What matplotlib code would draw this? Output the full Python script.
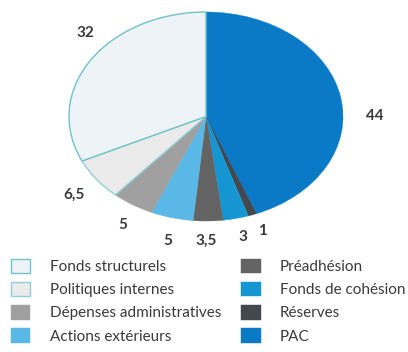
import matplotlib.pyplot as plt

# slices clockwise from 12 o'clock
postes = ["PAC", "Réserves", "Fonds de cohésion", "Préadhésion",
          "Actions extérieurs", "Dépenses administratives",
          "Politiques internes", "Fonds structurels"]
parts = [44, 1, 3, 3.5, 5, 5, 6.5, 32]
etiquettes = ["44", "1", "3", "3,5", "5", "5", "6,5", "32"]

couleurs = ["#0a7ac6", "#42484c", "#1596d3", "#646464",
            "#5ab8e6", "#a0a0a0", "#ebebeb", "#eef3f8"]
bords = ["none", "none", "none", "none", "none", "none", "#8fd0d8", "#6fc2cc"]
# label positions in pie-axes units (ellipse radius = 1)
pos_etiq = [(1.23, 0.0), (0.41, -1.10), (0.27, -1.15), (0.0, -1.19),
            (-0.28, -1.19), (-0.61, -1.04), (-0.96, -0.75), (-0.88, 0.80)]

plt.rcParams["font.family"] = ["Lato", "DejaVu Sans"]

W, H = 408, 352
fig = plt.figure(figsize=(W / 100, H / 100), dpi=100)
fig.patch.set_facecolor("white")

# ellipse bounding box in pixels: x 69..343, y 12..221
ax = fig.add_axes([69 / W, 1 - 221 / H, 274 / W, 209 / H])
wedges, _ = ax.pie(parts, colors=couleurs, startangle=90, counterclock=False,
                   wedgeprops=dict(linewidth=1.0))
for w, b in zip(wedges, bords):
    w.set_edgecolor(b if b != "none" else w.get_facecolor())
    w.set_linewidth(1.0 if b != "none" else 0.3)
ax.set_aspect("auto")
ax.set_xlim(-1, 1)
ax.set_ylim(-1, 1)
ax.axis("off")

for txt, (u, v) in zip(etiquettes, pos_etiq):
    ax.text(u, v, txt, ha="center", va="center", fontsize=11,
            fontweight="bold", color="#3a3a3a", clip_on=False)

# legend (reverse order of the slices)
order = list(range(len(postes)))[::-1]
leg = fig.legend([wedges[i] for i in order], [postes[i] for i in order],
                 ncol=2, loc="upper left", bbox_to_anchor=(6 / W, 1 - 254 / H),
                 frameon=False, fontsize=11, handlelength=1.3,
                 handleheight=1.1, handletextpad=1.25, labelspacing=0.5,
                 columnspacing=1.3, borderaxespad=0, borderpad=0.3)
for t in leg.get_texts():
    t.set_color("#3a3a3a")
for h, i in zip(leg.legend_handles, order):
    h.set_facecolor(couleurs[i])
    h.set_edgecolor(bords[i] if bords[i] != "none" else couleurs[i])

fig.savefig("out.png", dpi=100, facecolor="white")
